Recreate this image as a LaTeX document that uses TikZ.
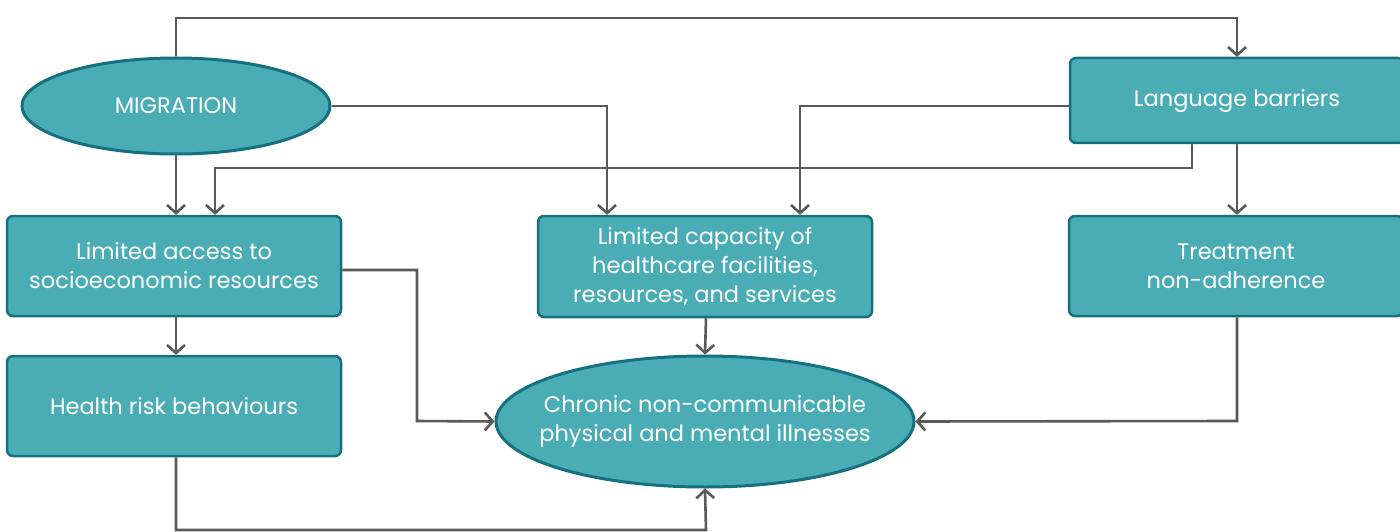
\documentclass[tikz,border=0pt]{standalone}
\usepackage{fontspec}
\setmainfont{Poppins}
\usetikzlibrary{shapes.geometric,arrows.meta}
\definecolor{tealfill}{HTML}{4AADB5}
\definecolor{tealline}{HTML}{16707F}
\definecolor{linkgray}{HTML}{5A5A5A}
\begin{document}
\begin{tikzpicture}[x=1pt,y=-1pt,
  label text/.style={text=white, align=center, font=\fontsize{22.5}{29}\selectfont},
  box/.style={draw=tealline, fill=tealfill, line width=2.5pt, rounded corners=6pt,
    inner sep=0pt, label text},
  oval/.style={ellipse, draw=tealline, fill=tealfill, line width=3pt,
    inner sep=0pt, label text},
  link/.style={draw=linkgray, line width=2.6pt,
    -{Straight Barb[length=8pt,width=18pt,line width=2.6pt]}}]
\useasboundingbox (0,0) rectangle (1400,532);

% nodes
\node[oval, minimum width=308pt, minimum height=96pt] (mig) at (176,106) {MIGRATION};
\node[box, minimum width=334pt, minimum height=85pt] (lang) at (1237,100.5) {Language barriers};
\node[box, minimum width=334pt, minimum height=100pt] (access) at (174,266)
  {Limited access to\\socioeconomic resources};
\node[box, minimum width=334pt, minimum height=101pt] (cap) at (705,266.5)
  {Limited capacity of\\healthcare facilities,\\resources, and services};
\node[box, minimum width=334pt, minimum height=100pt] (treat) at (1236,266)
  {Treatment\\non-adherence};
\node[box, minimum width=334pt, minimum height=100pt] (risk) at (174,406)
  {Health risk behaviours};
% the outcome ellipse keeps a fixed size; its text sits on it as a centred label
\node[oval, minimum width=418pt, minimum height=131pt,
  label={[label text]center:{Chronic non-communicable\\physical and mental illnesses}}]
  (chronic) at (705,421.5) {};

% connectors
\draw[link] (mig.north) -- (176,18) -- (1237,18) -- (lang.north);
\draw[link] (mig.east) -- (607,106) -- (607,0 |- cap.north);
\draw[link] (lang.west |- 0,106) -- (800,106) -- (800,0 |- cap.north);
\draw[link] (1192,0 |- lang.south) -- (1192,168) -- (215,168) -- (215,0 |- access.north);
\draw[link] (mig.south) -- (176,0 |- access.north);
\draw[link] (1237,0 |- lang.south) -- (1237,0 |- treat.north);
\draw[link] (access.east |- 0,270) -- (417,270) -- (417,421) -- (chronic.west);
\draw[link] (176,0 |- access.south) -- (176,0 |- risk.north);
\draw[link] (cap.south -| 706,0) -- (chronic.north);
\draw[link] (1237,0 |- treat.south) -- (1237,421) -- (chronic.east);
\draw[link] (176,0 |- risk.south) -- (176,530) -- (706,530) -- (chronic.south);
\end{tikzpicture}
\end{document}
